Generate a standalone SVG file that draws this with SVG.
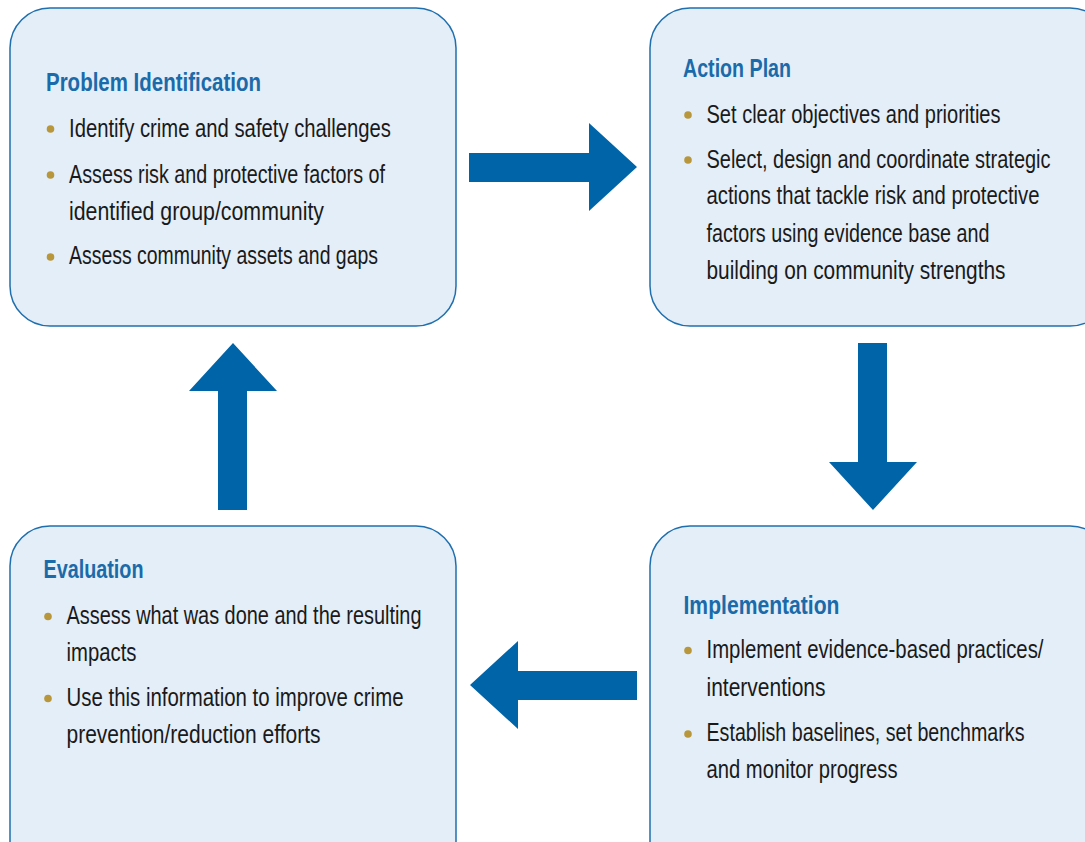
<svg xmlns="http://www.w3.org/2000/svg" width="1085" height="842" viewBox="0 0 1085 842">
<style>
.box{fill:#e3eef8;stroke:#1f6fae;stroke-width:1.5}
.arr{fill:#0064a8}
.t{font-family:"Liberation Sans",Arial,sans-serif;font-size:25px;fill:#1a1a1a}
.h{font-family:"Liberation Sans",Arial,sans-serif;font-size:26px;font-weight:bold;fill:#1b6aa9}
.b{fill:#b8973c}
</style>
<rect width="1085" height="842" fill="#ffffff"/>
<g id="problem">
<rect class="box" x="10" y="8" width="446" height="318" rx="40"/>
<text class="h" x="46" y="91" textLength="215" lengthAdjust="spacingAndGlyphs">Problem Identification</text>
<circle class="b" cx="50.5" cy="129" r="3.8"/>
<text class="t" x="69" y="136.5" textLength="322" lengthAdjust="spacingAndGlyphs">Identify crime and safety challenges</text>
<circle class="b" cx="50.5" cy="175" r="3.8"/>
<text class="t" x="69" y="182.5" textLength="316" lengthAdjust="spacingAndGlyphs">Assess risk and protective factors of</text>
<text class="t" x="69" y="220" textLength="255" lengthAdjust="spacingAndGlyphs">identified group/community</text>
<circle class="b" cx="50.5" cy="257" r="3.8"/>
<text class="t" x="69" y="264" textLength="309" lengthAdjust="spacingAndGlyphs">Assess community assets and gaps</text>
</g>
<g id="action">
<rect class="box" x="650" y="8" width="460" height="318" rx="40"/>
<text class="h" x="683" y="76.5" textLength="108" lengthAdjust="spacingAndGlyphs">Action Plan</text>
<circle class="b" cx="688" cy="115" r="3.8"/>
<text class="t" x="706.5" y="122.5" textLength="294" lengthAdjust="spacingAndGlyphs">Set clear objectives and priorities</text>
<circle class="b" cx="688" cy="160" r="3.8"/>
<text class="t" x="706.5" y="167.5" textLength="344" lengthAdjust="spacingAndGlyphs">Select, design and coordinate strategic</text>
<text class="t" x="706.5" y="204" textLength="333" lengthAdjust="spacingAndGlyphs">actions that tackle risk and protective</text>
<text class="t" x="706.5" y="241.5" textLength="283" lengthAdjust="spacingAndGlyphs">factors using evidence base and</text>
<text class="t" x="706.5" y="279" textLength="299" lengthAdjust="spacingAndGlyphs">building on community strengths</text>
</g>
<g id="evaluation">
<rect class="box" x="10" y="526" width="446" height="360" rx="40"/>
<text class="h" x="43.5" y="578" textLength="100" lengthAdjust="spacingAndGlyphs">Evaluation</text>
<circle class="b" cx="48" cy="616.5" r="3.8"/>
<text class="t" x="66.5" y="624" textLength="355" lengthAdjust="spacingAndGlyphs">Assess what was done and the resulting</text>
<text class="t" x="66.5" y="661" textLength="70" lengthAdjust="spacingAndGlyphs">impacts</text>
<circle class="b" cx="48" cy="698.5" r="3.8"/>
<text class="t" x="66.5" y="705.5" textLength="337" lengthAdjust="spacingAndGlyphs">Use this information to improve crime</text>
<text class="t" x="66.5" y="742.5" textLength="254" lengthAdjust="spacingAndGlyphs">prevention/reduction efforts</text>
</g>
<g id="implementation">
<rect class="box" x="650" y="526" width="460" height="360" rx="40"/>
<text class="h" x="683.5" y="614" textLength="156" lengthAdjust="spacingAndGlyphs">Implementation</text>
<circle class="b" cx="688" cy="650.5" r="3.8"/>
<text class="t" x="706.5" y="657.5" textLength="337" lengthAdjust="spacingAndGlyphs">Implement evidence-based practices/</text>
<text class="t" x="706.5" y="695.5" textLength="119" lengthAdjust="spacingAndGlyphs">interventions</text>
<circle class="b" cx="688" cy="734" r="3.8"/>
<text class="t" x="706.5" y="741" textLength="318" lengthAdjust="spacingAndGlyphs">Establish baselines, set benchmarks</text>
<text class="t" x="706.5" y="777.5" textLength="191" lengthAdjust="spacingAndGlyphs">and monitor progress</text>
</g>
<g id="connectors">
<polygon class="arr" points="469,153 589,153 589,123 637,167 589,211 589,182 469,182"/>
<polygon class="arr" points="858,343 887,343 887,462 917,462 873,510 829,462 858,462"/>
<polygon class="arr" points="637,671 518,671 518,641 470,685 518,729 518,700 637,700"/>
<polygon class="arr" points="218,510 218,391 189,391 233,343 277,391 247,391 247,510"/>
</g>
</svg>
